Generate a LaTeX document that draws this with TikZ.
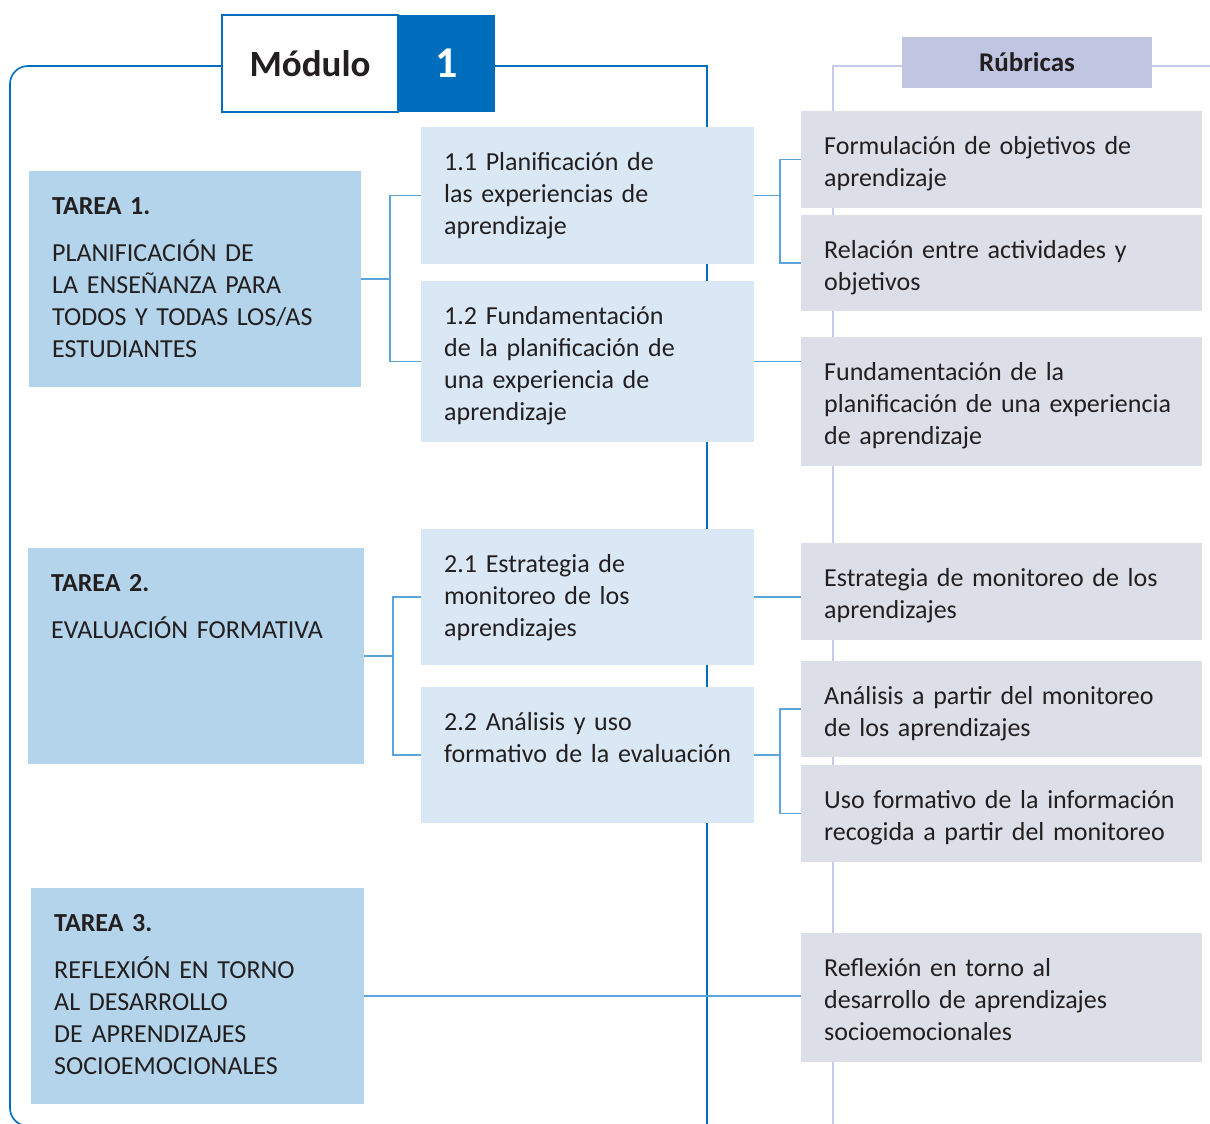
\documentclass[tikz,border=0pt]{standalone}
\usepackage{fontspec}
\setmainfont{Carlito}
\usepackage{tikz}
\usetikzlibrary{positioning}
\definecolor{myBlue}{RGB}{0,110,189}
\definecolor{myLink}{RGB}{91,165,220}
\definecolor{myTarea}{RGB}{179,212,234}
\definecolor{mySub}{RGB}{218,232,245}
\definecolor{myRub}{RGB}{221,223,232}
\definecolor{myHead}{RGB}{192,197,225}
\definecolor{myLine}{RGB}{198,203,235}
\definecolor{myText}{RGB}{35,31,32}

\begin{document}
\begin{tikzpicture}[
  x=1pt, y=-1pt,
  box/.style={anchor=north west, inner sep=0pt, outer sep=0pt, minimum width=#1},
  tarea/.style={box=334pt, fill=myTarea, minimum height=216pt},
  sub/.style={box=333pt, fill=mySub},
  rub/.style={box=401pt, fill=myRub},
  txt/.style={anchor=base west, inner sep=0pt, align=left, text width=390pt,
    text=myText, font=\fontsize{26}{32}\selectfont},
  link/.style={draw=myLink, line width=1.3pt},
  frame/.style={draw=myBlue, line width=1.6pt},
  rubline/.style={draw=myLine, line width=1.3pt},
]
  \useasboundingbox (0,0) rectangle (1210,1124);

  \draw[frame, rounded corners=18pt] (222,66) -| (10,1126) -- (60,1126);
  \draw[frame] (495,66) -| (707,1130);
  \draw[rubline] (902,66) -| (833,1130);
  \draw[rubline] (1152,66) -- (1210,66);

  \node[box=176pt, minimum height=97pt, fill=white, draw=myBlue, line width=2pt,
    text=myText, font=\fontsize{37}{40}\selectfont\bfseries] (modlbl) at (222,15) {Módulo};
  \node[box=97pt, minimum height=97pt, fill=myBlue, text=white,
    font=\fontsize{44}{48}\selectfont\bfseries] (modnum) at (modlbl.north east) {1};
  \node[box=250pt, minimum height=51pt, fill=myHead, text=myText,
    font=\fontsize{27}{30}\selectfont\bfseries] (rubhead) at (902,37) {Rúbricas};

  \node[tarea, minimum width=332pt] (t1) at (29,171) {};
  \node[tarea, minimum width=336pt] (t2) at (28,548) {};
  \node[tarea, minimum width=333pt] (t3) at (31,888) {};

  \node[sub, minimum height=137pt] (s11) at (421,127) {};
  \node[sub, minimum height=161pt] (s12) at (421,281) {};
  \node[sub, minimum height=136pt] (s21) at (421,529) {};
  \node[sub, minimum height=136pt] (s22) at (421,687) {};

  \node[rub, minimum height=97pt] (r1) at (801,111) {};
  \node[rub, minimum height=96pt] (r2) at (801,215) {};
  \node[rub, minimum height=129pt] (r3) at (801,337) {};
  \node[rub, minimum height=97pt] (r4) at (801,543) {};
  \node[rub, minimum height=96pt] (r5) at (801,661) {};
  \node[rub, minimum height=97pt] (r6) at (801,765) {};
  \node[rub, minimum height=129pt] (r7) at (801,933) {};

  \node[txt] (t1txt) at ([shift={(23,43)}]t1.north west)
    {\textbf{TAREA 1.}\\[15pt] PLANIFICACIÓN DE\\ LA ENSEÑANZA PARA\\ TODOS Y TODAS LOS/AS\\ ESTUDIANTES};
  \node[txt] (t2txt) at ([shift={(23,43)}]t2.north west)
    {\textbf{TAREA 2.}\\[15pt] EVALUACIÓN FORMATIVA};
  \node[txt] (t3txt) at ([shift={(23,43)}]t3.north west)
    {\textbf{TAREA 3.}\\[15pt] REFLEXIÓN EN TORNO\\ AL DESARROLLO\\ DE APRENDIZAJES\\ SOCIOEMOCIONALES};

  \node[txt] (s11txt) at ([shift={(23,43)}]s11.north west)
    {1.1 Planificación de\\ las experiencias de\\ aprendizaje};
  \node[txt] (s12txt) at ([shift={(23,43)}]s12.north west)
    {1.2 Fundamentación\\ de la planificación de\\ una experiencia de\\ aprendizaje};
  \node[txt] (s21txt) at ([shift={(23,43)}]s21.north west)
    {2.1 Estrategia de\\ monitoreo de los\\ aprendizajes};
  \node[txt] (s22txt) at ([shift={(23,43)}]s22.north west)
    {2.2 Análisis y uso\\ formativo de la evaluación};

  \node[txt] (r1txt) at ([shift={(23,43)}]r1.north west)
    {Formulación de objetivos de\\ aprendizaje};
  \node[txt] (r2txt) at ([shift={(23,43)}]r2.north west)
    {Relación entre actividades y\\ objetivos};
  \node[txt] (r3txt) at ([shift={(23,43)}]r3.north west)
    {Fundamentación de la\\ planificación de una experiencia\\ de aprendizaje};
  \node[txt] (r4txt) at ([shift={(23,43)}]r4.north west)
    {Estrategia de monitoreo de los\\ aprendizajes};
  \node[txt] (r5txt) at ([shift={(23,43)}]r5.north west)
    {Análisis a partir del monitoreo\\ de los aprendizajes};
  \node[txt] (r6txt) at ([shift={(23,43)}]r6.north west)
    {Uso formativo de la información\\ recogida a partir del monitoreo};
  \node[txt] (r7txt) at ([shift={(23,43)}]r7.north west)
    {Reflexión en torno al\\ desarrollo de aprendizajes\\ socioemocionales};

  \draw[link] (t1.east) -- ++(29,0);
  \draw[link] (s11.west) -- ++(-31,0) |- (s12.west);
  \draw[link] (s11.east) -- ++(26,0);
  \draw[link] (r1.west) -- ++(-21,0) |- (r2.west);
  \draw[link] (s12.east) -- (s12.east -| r3.west);

  \draw[link] (t2.east) -- ++(29,0);
  \draw[link] (s21.west) -- ++(-28,0) |- (s22.west);
  \draw[link] (s21.east) -- (s21.east -| r4.west);
  \draw[link] (s22.east) -- ++(26,0);
  \draw[link] (r5.west) -- ++(-21,0) |- (r6.west);

  \draw[link] (t3.east) -- (t3.east -| r7.west);
\end{tikzpicture}
\end{document}
